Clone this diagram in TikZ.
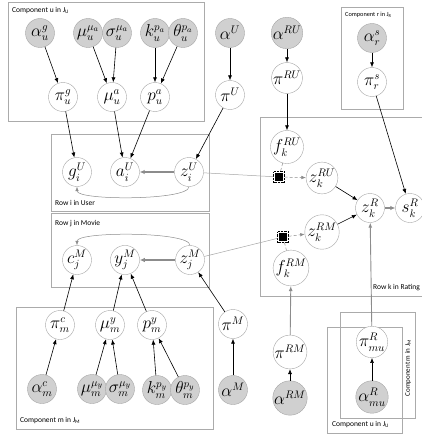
\documentclass[tikz,border=0pt]{standalone}
\usepackage{fontspec}
\setmainfont{Carlito}
\usetikzlibrary{arrows.meta}
\definecolor{pgLine}{HTML}{A6A6A6}
\definecolor{pgFill}{HTML}{D0D0D0}
\definecolor{pgBox}{HTML}{ABABAB}
\definecolor{pgThick}{HTML}{8C8C8C}
\tikzset{
  var/.style={
    circle, draw=pgLine, fill=white, minimum size=29pt, inner sep=0pt,
    font=\fontsize{16}{16}\selectfont
  },
  obs/.style={var, fill=pgFill},
  factor/.style={
    draw, densely dotted, minimum size=11pt, inner sep=0pt,
    path picture={\fill[black] ([shift={(1.5pt,1.5pt)}]path picture bounding box.south west)
      rectangle ([shift={(-1.5pt,-1.5pt)}]path picture bounding box.north east);}
  },
  plate/.style={draw=pgBox, line width=0.6pt},
  platelabel/.style={font=\fontsize{7.5}{9}\selectfont, inner sep=0pt, anchor=west},
  dep/.style={-{Latex[length=5pt,width=4pt]}, line width=0.6pt},
  greydep/.style={dep, pgThick, line width=0.9pt},
  heavy/.style={-{Latex[length=5pt,width=4.5pt]}, line width=1.5pt, pgThick},
  link/.style={line width=0.5pt, pgLine},
  soft/.style={-{Latex[length=4.5pt,width=3.5pt]}, line width=0.5pt, pgThick, densely dashed},
  softline/.style={line width=0.5pt, pgThick, densely dashed},
  curveback/.style={-{Latex[length=4.5pt,width=3.5pt]}, line width=0.5pt, pgThick}
}
\begin{document}
\begin{tikzpicture}[x=1pt, y=-1pt]
  \useasboundingbox (0,0) rectangle (422,436);
  % plates
  \draw[plate] (8,2) rectangle (204,121);
  \node[platelabel] (lbu) at (12,11) {Component u in J\textsubscript{U}};
  \draw[plate] (341,7) rectangle (403,109);
  \node[platelabel, font=\fontsize{6.3}{8}\selectfont] (lbr) at (345,15) {Component r in J\textsubscript{R}};
  \draw[plate] (51,134) rectangle (209,211);
  \node[platelabel] (lbi) at (55,203) {Row i in User};
  \draw[plate] (51,213) rectangle (209,287);
  \node[platelabel] (lbj) at (55,224) {Row j in Movie};
  \draw[plate] (260,117) rectangle (432,296);
  \node[platelabel] (lbk) at (373,288) {Row k in Rating};
  \draw[plate] (16,307) rectangle (213,429);
  \node[platelabel] (lbm) at (20,421) {Component m in J\textsubscript{M}};
  \draw[plate] (340,312) rectangle (415,418);
  \node[platelabel, font=\fontsize{7}{8}\selectfont, rotate=90, anchor=center] (lbmr) at (408,368) {Component m in J\textsubscript{M}};
  \draw[plate] (327,327) rectangle (402,433);
  \node[platelabel] (lbur) at (332,425) {Component u in J\textsubscript{U}};

  % user component
  \node[obs] (ag)  at (40,33)  {$\alpha_u^{g}$};
  \node[obs] (mma) at (88,33)  {$\mu_u^{\mu_a}$};
  \node[obs] (sma) at (117,33) {$\sigma_u^{\mu_a}$};
  \node[obs] (kpa) at (155,33) {$k_u^{p_a}$};
  \node[obs] (tpa) at (183,33) {$\theta_u^{p_a}$};
  \node[var] (pig) at (63,97)  {$\pi_u^{g}$};
  \node[var] (mua) at (112,97) {$\mu_u^{a}$};
  \node[var] (pa)  at (155,97) {$p_u^{a}$};
  \node[obs] (aU)  at (230,33) {$\alpha^{U}$};
  \node[var] (piU) at (230,95) {$\pi^{U}$};
  \node[obs] (aRU) at (287,33) {$\alpha^{RU}$};
  \node[var] (piRU) at (287,78) {$\pi^{RU}$};
  \node[obs] (asr) at (372,38) {$\alpha_r^{s}$};
  \node[var] (pisr) at (372,82) {$\pi_r^{s}$};

  % rows
  \node[var] (gi) at (77,172)  {$g_i^{U}$};
  \node[var] (ai) at (125,172) {$a_i^{U}$};
  \node[var] (zi) at (189,172) {$z_i^{U}$};
  \node[var] (cj) at (77,260)  {$c_j^{M}$};
  \node[var] (yj) at (125,260) {$y_j^{M}$};
  \node[var] (zj) at (190,260) {$z_j^{M}$};

  % rating
  \node[var] (fRU) at (287,147) {$f_k^{RU}$};
  \node[factor] (fu) at (279,177) {};
  \node[var] (zRU) at (322,178) {$z_k^{RU}$};
  \node[var] (zR)  at (370,208) {$z_k^{R}$};
  \node[var] (sk)  at (410,208) {$s_k^{R}$};
  \node[factor] (fd) at (283,237) {};
  \node[var] (zRM) at (322,232) {$z_k^{RM}$};
  \node[var] (fRM) at (291,268) {$f_k^{RM}$};

  % movie component
  \node[var] (pic) at (60,325)  {$\pi_m^{c}$};
  \node[var] (muy) at (110,325) {$\mu_m^{y}$};
  \node[var] (py)  at (152,325) {$p_m^{y}$};
  \node[obs] (amc) at (42,389)  {$\alpha_m^{c}$};
  \node[obs] (mmy) at (92,389)  {$\mu_m^{\mu_y}$};
  \node[obs] (smy) at (120,389) {$\sigma_m^{\mu_y}$};
  \node[obs] (kpy) at (157,390) {$k_m^{p_y}$};
  \node[obs] (tpy) at (185,390) {$\theta_m^{p_y}$};
  \node[var] (piM) at (233,324) {$\pi^{M}$};
  \node[obs] (aM)  at (233,390) {$\alpha^{M}$};
  \node[var] (piRM) at (290,352) {$\pi^{RM}$};
  \node[obs] (aRM) at (290,398) {$\alpha^{RM}$};
  \node[var] (pimu) at (372,342) {$\pi_{mu}^{R}$};
  \node[obs] (amu) at (372,397) {$\alpha_{mu}^{R}$};

  % dependencies
  \foreach \s/\e in {ag/pig, mma/mua, sma/mua, kpa/pa, tpa/pa, pig/gi, mua/ai, pa/ai,
    aU/piU, piU/zi, aRU/piRU, piRU/fRU, asr/pisr, pisr/sk, zRU/zR, zRM/zR,
    piM/zj, aM/piM, aRM/piRM, amu/pimu, pic/cj, muy/yj, py/yj,
    amc/pic, mmy/muy, smy/muy, kpy/py, tpy/py}{\draw[dep] (\s) -- (\e);}
  \draw[greydep] (piRM) -- (fRM);
  \draw[greydep] (pimu) -- (zR);
  \foreach \s/\e in {zi/ai, zj/yj, zR/sk}{\draw[heavy] (\s) -- (\e);}
  \draw[curveback] (zi.south) .. controls +(0,14) and +(0,14) .. (gi.south);
  \draw[curveback] (zj.north) .. controls +(0,-14) and +(0,-14) .. (cj.north);
  % factors
  \draw[link] (zi) -- (fu);
  \draw[link] (zj) -- (fd);
  \draw[softline] (fRU) -- (fu);
  \draw[softline] (fRM) -- (fd);
  \draw[soft] (fu) -- (zRU);
  \draw[soft] (fd) -- (zRM);
\end{tikzpicture}
\end{document}
